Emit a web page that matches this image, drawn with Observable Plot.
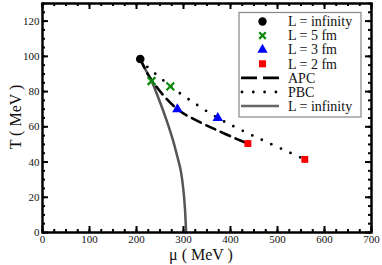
<!DOCTYPE html>
<html>
<head>
<meta charset="utf-8">
<script src="https://cdn.jsdelivr.net/npm/d3@7"></script>
<script src="https://cdn.jsdelivr.net/npm/@observablehq/plot@0.6"></script>
<style>
  html, body { margin: 0; padding: 0; background: white; }
  #chart { position: relative; width: 382px; height: 265px; }
  #chart svg text { font-family: "Liberation Serif", "DejaVu Serif", serif !important; }
</style>
</head>
<body>
<div id="chart"></div>
<script>
// Critical end points
const infMu = [208];     const infT = [98.5];
const l5Mu = [232, 272]; const l5T = [86, 83];
const l3Mu = [287, 373]; const l3T = [70, 65];
const l2Mu = [437, 558]; const l2T = [50.5, 41.5];
// APC line
const apcMu = [208, 232, 287, 336, 372, 414, 437];
const apcT  = [98.5, 86.5, 70, 62.5, 58, 53, 50.5];
// PBC line
const pbcMu = [208, 225, 250, 272, 320, 373, 420, 480, 558];
const pbcT  = [98.5, 93.5, 88, 83, 74, 65, 58.5, 51, 41.5];
// Critical line L = infinity
const critMu = [208, 220, 232, 245, 257, 268, 278, 286, 293.5, 299, 303, 305.5];
const critT  = [98.5, 92, 86, 77.5, 69, 60.5, 52, 44, 36, 26, 14, 0];
// Axes and ticks
const xDomain = [0, 700];
const yDomain = [0, 130];
const xMajor = d3.range(0, 701, 100);
const xMinor = d3.range(0, 701, 25);
const yMajor = d3.range(0, 121, 20);
const yMinor = d3.range(0, 131, 5);
const legendLabels = ["L = infinity", "L = 5 fm", "L = 3 fm", "L = 2 fm", "APC", "PBC", "L = infinity"];

const zip = (a, b) => a.map((v, i) => ({mu: v, T: b[i]}));
const FONT = "'Liberation Serif', 'DejaVu Serif', serif";

const W = 382, H = 265, ML = 42, MR = 11, MT = 3, MB = 33;
// convert a tick length in pixels to data units along each axis
const pxX = (xDomain[1] - xDomain[0]) / (W - ML - MR);
const pxY = (yDomain[1] - yDomain[0]) / (H - MT - MB);
const tickSty = {stroke: "#000", strokeWidth: 2};
const xTicks = (vals, len) => [
  Plot.ruleX(vals, {x: d => d, y1: yDomain[0], y2: yDomain[0] + len * pxY, ...tickSty}),
  Plot.ruleX(vals, {x: d => d, y1: yDomain[1], y2: yDomain[1] - len * pxY, ...tickSty})
];
const yTicks = (vals, len) => [
  Plot.ruleY(vals, {y: d => d, x1: xDomain[0], x2: xDomain[0] + len * pxX, ...tickSty}),
  Plot.ruleY(vals, {y: d => d, x1: xDomain[1], x2: xDomain[1] - len * pxX, ...tickSty})
];

const plot = Plot.plot({
  width: W, height: H,
  marginLeft: ML, marginRight: MR, marginTop: MT, marginBottom: MB,
  x: {domain: xDomain},
  y: {domain: yDomain},
  style: {fontFamily: FONT, fontSize: "11px", color: "#111", background: "white", overflow: "visible"},
  marks: [
    ...xTicks(xMinor, 3), ...xTicks(xMajor, 6),
    ...yTicks(yMinor, 3), ...yTicks(yMajor, 6),
    Plot.axisX(xMajor, {anchor: "bottom", tickSize: 0, tickPadding: 3, label: null, fontFamily: FONT, fontSize: 11}),
    Plot.axisY(yMajor, {anchor: "left", tickSize: 0, tickPadding: 3, label: null, fontFamily: FONT, fontSize: 11}),
    Plot.line(zip(critMu, critT), {x: "mu", y: "T", stroke: "#555", strokeWidth: 2.5, curve: "catmull-rom"}),
    Plot.line(zip(apcMu, apcT), {x: "mu", y: "T", stroke: "black", strokeWidth: 2.6, strokeDasharray: "10,6", curve: "catmull-rom"}),
    Plot.line(zip(pbcMu, pbcT), {x: "mu", y: "T", stroke: "black", strokeWidth: 2.8, strokeDasharray: "0,10.5", strokeLinecap: "round", curve: "catmull-rom"}),
    Plot.dot(zip(infMu, infT), {x: "mu", y: "T", r: 4.3, fill: "black", symbol: "circle"}),
    Plot.dot(zip(l5Mu, l5T), {x: "mu", y: "T", r: 3.6, stroke: "#0a8a0a", strokeWidth: 2.2, symbol: "times"}),
    Plot.dot(zip(l3Mu, l3T), {x: "mu", y: "T", r: 3.9, fill: "#0000ff", symbol: "triangle"}),
    Plot.dot(zip(l2Mu, l2T), {x: "mu", y: "T", r: 3.9, fill: "#ff0000", symbol: "square"}),
    Plot.frame({stroke: "#000", strokeWidth: 2.5})
  ]
});
document.getElementById("chart").appendChild(plot);

// Axis titles and legend
const svg = d3.select(plot);
svg.append("text").attr("x", 201).attr("y", 259.5).attr("text-anchor", "middle")
  .style("font-family", FONT).style("font-size", "16px").attr("fill", "#111")
  .text("μ ( MeV )");
svg.append("text").attr("transform", "translate(20.5,117) rotate(-90)").attr("text-anchor", "middle")
  .style("font-family", FONT).style("font-size", "16px").attr("fill", "#111")
  .text("T ( MeV )");

const lg = svg.append("g");
lg.append("rect").attr("x", 239).attr("y", 12.5).attr("width", 122).attr("height", 104.5)
  .attr("fill", "white").attr("stroke", "#888").attr("stroke-width", 1.2);
const sym = (t, s) => d3.symbol(t, s)();
legendLabels.forEach((lab, i) => {
  const cy = 21.5 + i * 14.1;
  const g = lg.append("g");
  if (i === 0) g.append("path").attr("d", sym(d3.symbolCircle, 55)).attr("transform", `translate(262.5,${cy})`).attr("fill", "black");
  if (i === 1) g.append("path").attr("d", sym(d3.symbolTimes, 30)).attr("transform", `translate(262.5,${cy})`).attr("fill", "none").attr("stroke", "#0a8a0a").attr("stroke-width", 2.2);
  if (i === 2) g.append("path").attr("d", sym(d3.symbolTriangle, 45)).attr("transform", `translate(262.5,${cy})`).attr("fill", "#0000ff");
  if (i === 3) g.append("path").attr("d", sym(d3.symbolSquare, 50)).attr("transform", `translate(262.5,${cy})`).attr("fill", "#ff0000");
  if (i === 4) g.append("line").attr("x1", 241).attr("x2", 279).attr("y1", cy).attr("y2", cy).attr("stroke", "black").attr("stroke-width", 2.6).attr("stroke-dasharray", "16,6");
  if (i === 5) g.append("line").attr("x1", 242).attr("x2", 279).attr("y1", cy).attr("y2", cy).attr("stroke", "black").attr("stroke-width", 2.8).attr("stroke-dasharray", "0,11.3").attr("stroke-linecap", "round");
  if (i === 6) g.append("line").attr("x1", 241).attr("x2", 279).attr("y1", cy).attr("y2", cy).attr("stroke", "#666").attr("stroke-width", 2.5);
  g.append("text").attr("x", 288).attr("y", cy).attr("dy", "0.34em").attr("text-anchor", "start")
    .style("font-family", FONT).style("font-size", "14px").attr("fill", "#111").text(lab);
});
</script>
</body>
</html>
